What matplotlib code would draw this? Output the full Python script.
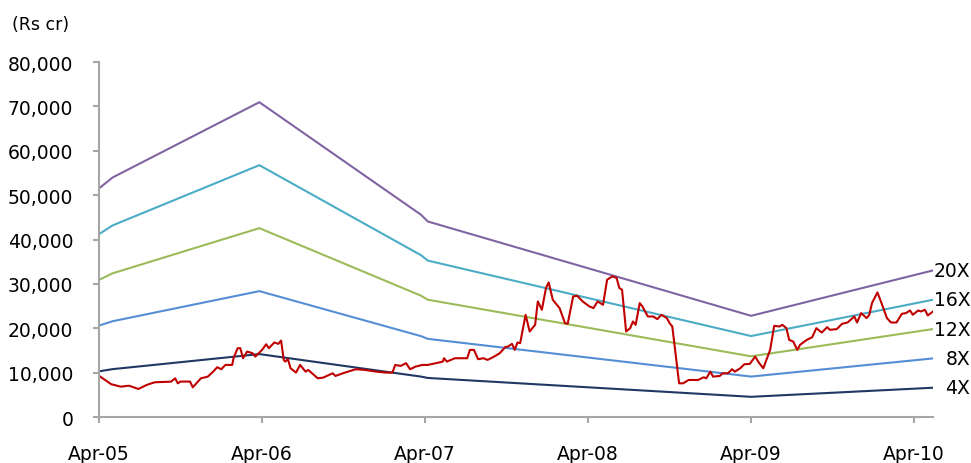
import matplotlib
matplotlib.use("Agg")
import matplotlib.pyplot as plt
from matplotlib.ticker import FuncFormatter

# months elapsed since Apr-05
mcap_month = [0.0, 0.9, 1.6, 2.2, 2.9, 3.5, 4.1, 5.3, 5.6, 5.8, 6.0, 6.7, 6.9, 7.5, 8.0, 8.4, 8.7,
              9.0, 9.3, 9.8, 9.9, 10.2, 10.4, 10.6, 10.9, 11.3, 11.5, 12.0, 12.3, 12.5, 12.9, 13.2,
              13.4, 13.6, 13.7, 13.9, 14.1, 14.5, 14.8, 15.2, 15.4, 16.1, 16.5, 17.2, 17.4, 18.1,
              18.9, 19.6, 20.4, 21.1, 21.6, 21.8, 22.2, 22.6, 22.9, 23.3, 23.8, 24.2, 24.8, 25.3,
              25.4, 25.6, 26.2, 27.1, 27.3, 27.6, 27.9, 28.3, 28.6, 29.0, 29.5, 29.9, 30.1, 30.4,
              30.6, 30.8, 31.0, 31.4, 31.7, 32.1, 32.3, 32.6, 32.9, 33.1, 33.4, 33.7, 33.9, 34.3,
              34.5, 34.9, 35.2, 35.6, 36.1, 36.4, 36.7, 37.1, 37.4, 37.8, 38.1, 38.3, 38.5, 38.8,
              39.1, 39.3, 39.5, 39.8, 40.0, 40.4, 40.8, 41.1, 41.4, 41.8, 42.0, 42.2, 42.7, 43.0,
              43.4, 44.1, 44.5, 44.7, 45.0, 45.2, 45.7, 45.9, 46.3, 46.6, 46.8, 47.2, 47.5, 47.9,
              48.3, 48.6, 48.9, 49.4, 49.7, 50.1, 50.3, 50.6, 50.8, 51.1, 51.4, 51.6, 52.1, 52.5,
              52.8, 53.2, 53.6, 53.8, 54.3, 54.7, 55.1, 55.6, 55.8, 56.1, 56.5, 56.7, 56.9, 57.3,
              57.6, 58.0, 58.3, 58.7, 59.1, 59.4, 59.7, 59.9, 60.3, 60.5, 60.8, 61.0, 61.4]
mcap = [9300, 7400, 6850, 7070, 6330, 7230, 7840, 7980, 8740, 7600, 8000, 8000, 6700, 8740, 9100,
        10240, 11230, 10780, 11750, 11750, 13260, 15520, 15520, 13260, 14760, 14390, 13630, 15140,
        16400, 15520, 16800, 16500, 17240, 12880, 12500, 13040, 11000, 10020, 11750, 10240, 10620,
        8740, 8890, 9870, 9270, 10020, 10780, 10620, 10240, 10020, 10020, 11750, 11530, 12140,
        10780, 11370, 11750, 11750, 12140, 12500, 13260, 12500, 13260, 13260, 15140, 15140, 13040,
        13260, 12880, 13490, 14390, 15750, 15900, 16500, 15140, 16800, 16650, 23050, 19280, 20790,
        26060, 24180, 29080, 30350, 26440, 25310, 24560, 21170, 21020, 27190, 27340, 26060, 24930,
        24560, 26060, 25310, 30960, 31710, 31340, 29080, 28700, 19280, 20040, 21540, 20790, 25690,
        24930, 22670, 22670, 22070, 23050, 22300, 21170, 20410, 7610, 7610, 8360, 8360, 8970, 8740,
        10240, 9110, 9270, 9870, 9870, 10780, 10240, 11000, 11900, 11980, 13630, 12140, 11000,
        15140, 20560, 20410, 20790, 20040, 17400, 17020, 15140, 16270, 17400, 18000, 20040, 19050,
        20260, 19660, 19820, 21020, 21310, 22670, 21310, 23430, 22300, 23050, 25690, 28090, 25690,
        22300, 21310, 21310, 23280, 23430, 24020, 23050, 24020, 23800, 24180, 22900, 23800]

# trailing earnings (1X) turning points
eps_month = [0.0, 1.0, 11.8, 23.7, 24.2, 48.0, 61.4]
eps = [2577, 2700, 3548, 2280, 2204, 1141, 1653]

multiples = [20, 16, 12, 8, 4]
band_colors = ["#8064A2", "#4BACC6", "#9BBB59", "#558ED5", "#1F3864"]

tick_months = [0, 12, 24, 36, 48, 60]
tick_labels = ["Apr-05", "Apr-06", "Apr-07", "Apr-08", "Apr-09", "Apr-10"]

plt.rcParams["font.family"] = "DejaVu Sans"
fig = plt.figure(figsize=(9.71, 4.64), dpi=100)
ax = fig.add_axes([0.102, 0.099, 0.859, 0.765])

for m, c in zip(multiples, band_colors):
    vals = [e * m for e in eps]
    ax.plot(eps_month, vals, color=c, lw=1.5)
    ax.text(1.0 + 37 / 834, vals[-1], f"{m}X", transform=ax.get_yaxis_transform(),
            ha="right", va="center", fontsize=13.5, clip_on=False)

ax.plot(mcap_month, mcap, color="#C00000", lw=1.5)

ax.set_xlim(0, 61.4)
ax.set_ylim(0, 80000)
ax.set_yticks(range(0, 80001, 10000))
ax.yaxis.set_major_formatter(FuncFormatter(lambda v, p: f"{int(v):,}"))
ax.set_xticks(tick_months)
ax.set_xticklabels(tick_labels)

for s in ["top", "right"]:
    ax.spines[s].set_visible(False)
for s in ["left", "bottom"]:
    ax.spines[s].set_color("#A6A6A6")
    ax.spines[s].set_linewidth(1.5)
ax.tick_params(axis="y", colors="#A6A6A6", length=4.5, width=1.5, labelcolor="black",
               labelsize=13.5, pad=14)
ax.tick_params(axis="x", colors="#A6A6A6", length=4.5, width=1.5, labelcolor="black",
               labelsize=13.5, pad=15)

fig.text(12 / 971, 1 - 25 / 464, "(Rs cr)", fontsize=12.5, va="center", ha="left")

fig.savefig("out.png", dpi=100)
